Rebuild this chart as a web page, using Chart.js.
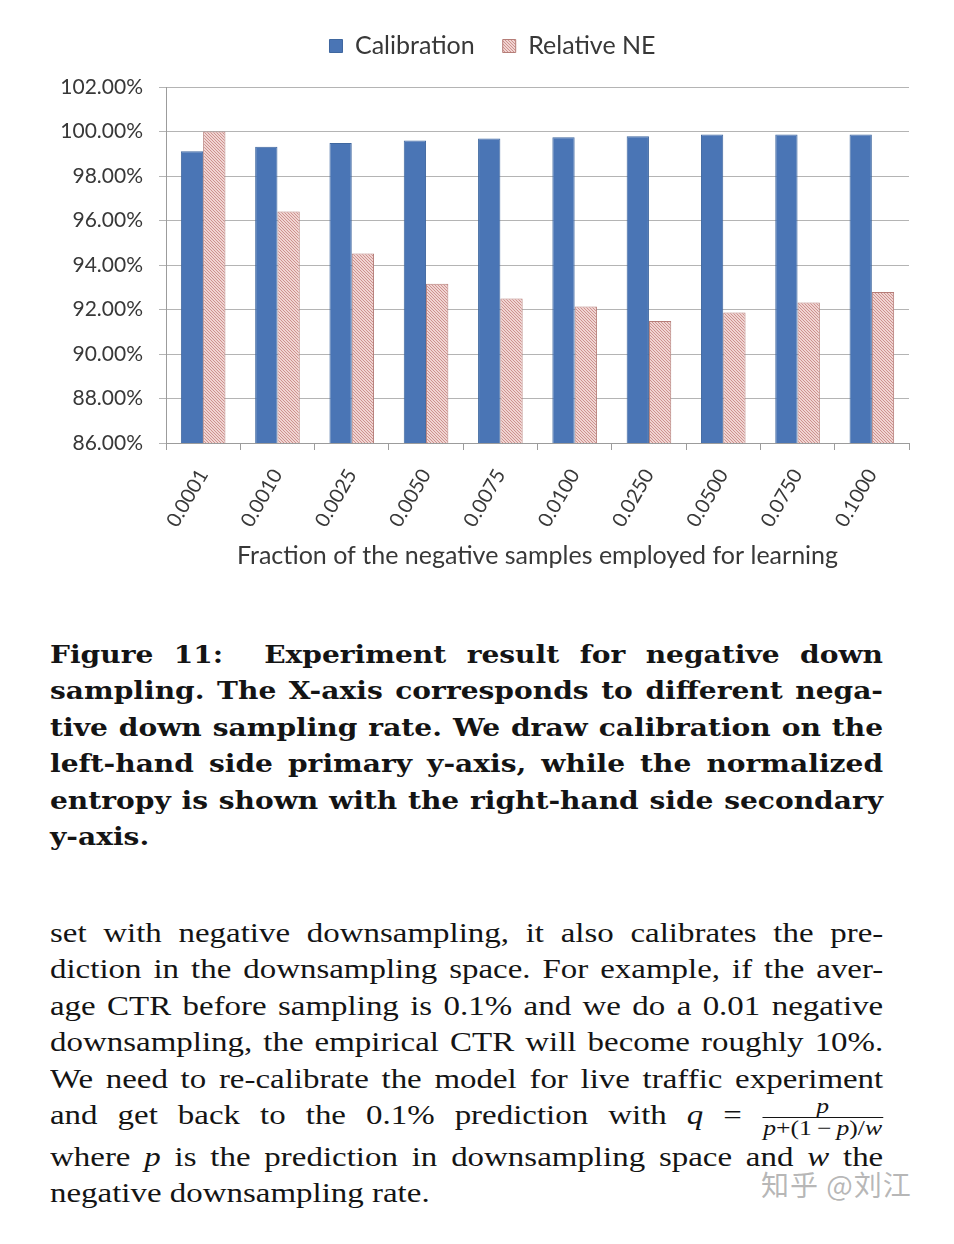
<!DOCTYPE html>
<html>
<head>
<meta charset="utf-8">
<script src="https://cdn.jsdelivr.net/npm/chart.js@4.4.1/dist/chart.umd.min.js"></script>
<style>
  html, body { margin:0; padding:0; background:#fff; }
  body { width:954px; height:1244px; position:relative; overflow:hidden; }
  #wrap { position:absolute; left:0; top:0; width:954px; height:590px; }
  .block { position:absolute; left:50px; color:#141414; transform-origin:0 0; }
  .line { white-space:nowrap; text-align:justify; text-align-last:justify; }
  .last { text-align:left; text-align-last:left; }
  #caption { top:637px; width:712px; transform:scaleX(1.17); font-family:"DejaVu Serif", serif; font-weight:bold; font-size:24px; line-height:36.4px; }
  #para { top:915px; width:683px; transform:scaleX(1.22); font-family:"Liberation Serif", serif; font-size:27px; line-height:36.4px; }
  #para2 { top:1139px; width:683px; transform:scaleX(1.22); font-family:"Liberation Serif", serif; font-size:27px; line-height:36.4px; }
  .frac { display:inline-block; vertical-align:middle; text-align:center; font-size:21px; line-height:19px; text-align-last:center; }
  .frac .num { display:block; border-bottom:1.5px solid #141414; padding:0 1px 1px 1px; }
  .frac .den { display:block; padding:1px 1px 0 1px; }
  #wm { position:absolute; left:761px; top:1164px; font-family:"Noto Sans CJK SC", sans-serif; font-size:28px; color:rgba(160,160,160,0.75); letter-spacing:1px; }
</style>
</head>
<body>
<div id="wrap"><canvas id="c" width="954" height="590"></canvas></div>

<div id="caption" class="block">
  <div class="line">Figure 11: &nbsp;Experiment result for negative down</div>
  <div class="line">sampling. The X-axis corresponds to different nega-</div>
  <div class="line">tive down sampling rate. We draw calibration on the</div>
  <div class="line">left-hand side primary y-axis, while the normalized</div>
  <div class="line">entropy is shown with the right-hand side secondary</div>
  <div class="line last">y-axis.</div>
</div>

<div id="para" class="block">
  <div class="line">set with negative downsampling, it also calibrates the pre-</div>
  <div class="line">diction in the downsampling space. For example, if the aver-</div>
  <div class="line">age CTR before sampling is 0.1% and we do a 0.01 negative</div>
  <div class="line">downsampling, the empirical CTR will become roughly 10%.</div>
  <div class="line">We need to re-calibrate the model for live traffic experiment</div>
  <div class="line">and get back to the 0.1% prediction with <i>q</i> = <span class="frac"><span class="num"><i>p</i></span><span class="den"><i>p</i>+(1&thinsp;&minus;&thinsp;<i>p</i>)/<i>w</i></span></span></div>
</div>
<div id="para2" class="block">
  <div class="line">where <i>p</i> is the prediction in downsampling space and <i>w</i> the</div>
  <div class="line last">negative downsampling rate.</div>
</div>

<div id="wm">知乎 @刘江</div>

<script>
// ---- data ----
const categories = ["0.0001","0.0010","0.0025","0.0050","0.0075","0.0100","0.0250","0.0500","0.0750","0.1000"];
const calibration = [99.11, 99.32, 99.48, 99.59, 99.69, 99.74, 99.79, 99.86, 99.86, 99.87];
const relativeNE  = [100.0, 96.40, 94.52, 93.16, 92.50, 92.13, 91.48, 91.86, 92.31, 92.79];
const seriesNames = ["Calibration", "Relative NE"];
const yTickMin = 86, yTickMax = 102, yTickStep = 2;
const xAxisTitle = "Fraction of the negative samples employed for learning";

function makeHatch() {
  const c = document.createElement('canvas');
  c.width = 3; c.height = 3;
  const g = c.getContext('2d');
  g.fillStyle = '#f0d4d2';
  g.fillRect(0, 0, 3, 3);
  g.fillStyle = '#cd928e';
  g.fillRect(0, 0, 1, 1);
  g.fillRect(1, 1, 1, 1);
  g.fillRect(2, 2, 1, 1);
  return document.getElementById('c').getContext('2d').createPattern(c, 'repeat');
}

const FONT = "Lato, 'Open Sans', sans-serif";
const TXT = '#383838';

const legendTweak = {
  id: 'legendTweak',
  beforeInit(chart) {
    const origFit = chart.legend.fit;
    chart.legend.fit = function () {
      origFit.bind(chart.legend)();
      this.height = 81.5;
    };
  },
  afterLayout(chart) {
    chart.legend.left += 38;
    chart.legend.right += 38;
  }
};

new Chart(document.getElementById('c'), {
  type: 'bar',
  data: {
    labels: categories,
    datasets: [
      { label: seriesNames[0], data: calibration, backgroundColor: '#4a75b5', borderColor: '#3f679f', borderWidth: 1 },
      { label: seriesNames[1], data: relativeNE, backgroundColor: makeHatch(), borderColor: '#b57d78', borderWidth: 1 }
    ]
  },
  options: {
    responsive: false,
    animation: false,
    devicePixelRatio: 1,
    layout: { padding: { top: 5.5, right: 45, bottom: 7, left: 0 } },
    datasets: { bar: { categoryPercentage: 0.6, barPercentage: 1.0 } },
    plugins: {
      legend: {
        position: 'top',
        labels: { font: { family: FONT, size: 25 }, color: TXT, boxWidth: 13, boxHeight: 13, padding: 28 }
      },
      tooltip: { enabled: false }
    },
    scales: {
      x: {
        afterFit(scale) { scale.height = 140; },
        grid: { offset: true, drawOnChartArea: false, drawTicks: true, tickLength: 7, color: '#9c9c9c' },
        border: { color: '#9c9c9c' },
        ticks: { font: { family: FONT, size: 20 }, color: TXT, minRotation: 60, maxRotation: 60, padding: 15 },
        title: { display: true, text: xAxisTitle, font: { family: FONT, size: 25 }, color: TXT, padding: { top: 12, bottom: 12 } }
      },
      y: {
        min: yTickMin, max: yTickMax,
        afterFit(scale) { scale.width = 166; },
        grid: { color: '#b4b4b4', tickLength: 7, drawTicks: true },
        border: { color: '#9c9c9c' },
        ticks: { stepSize: yTickStep, font: { family: FONT, size: 21 }, color: TXT, padding: 16,
          callback: v => v.toFixed(2) + '%' }
      }
    }
  },
  plugins: [legendTweak]
});
</script>
</body>
</html>
